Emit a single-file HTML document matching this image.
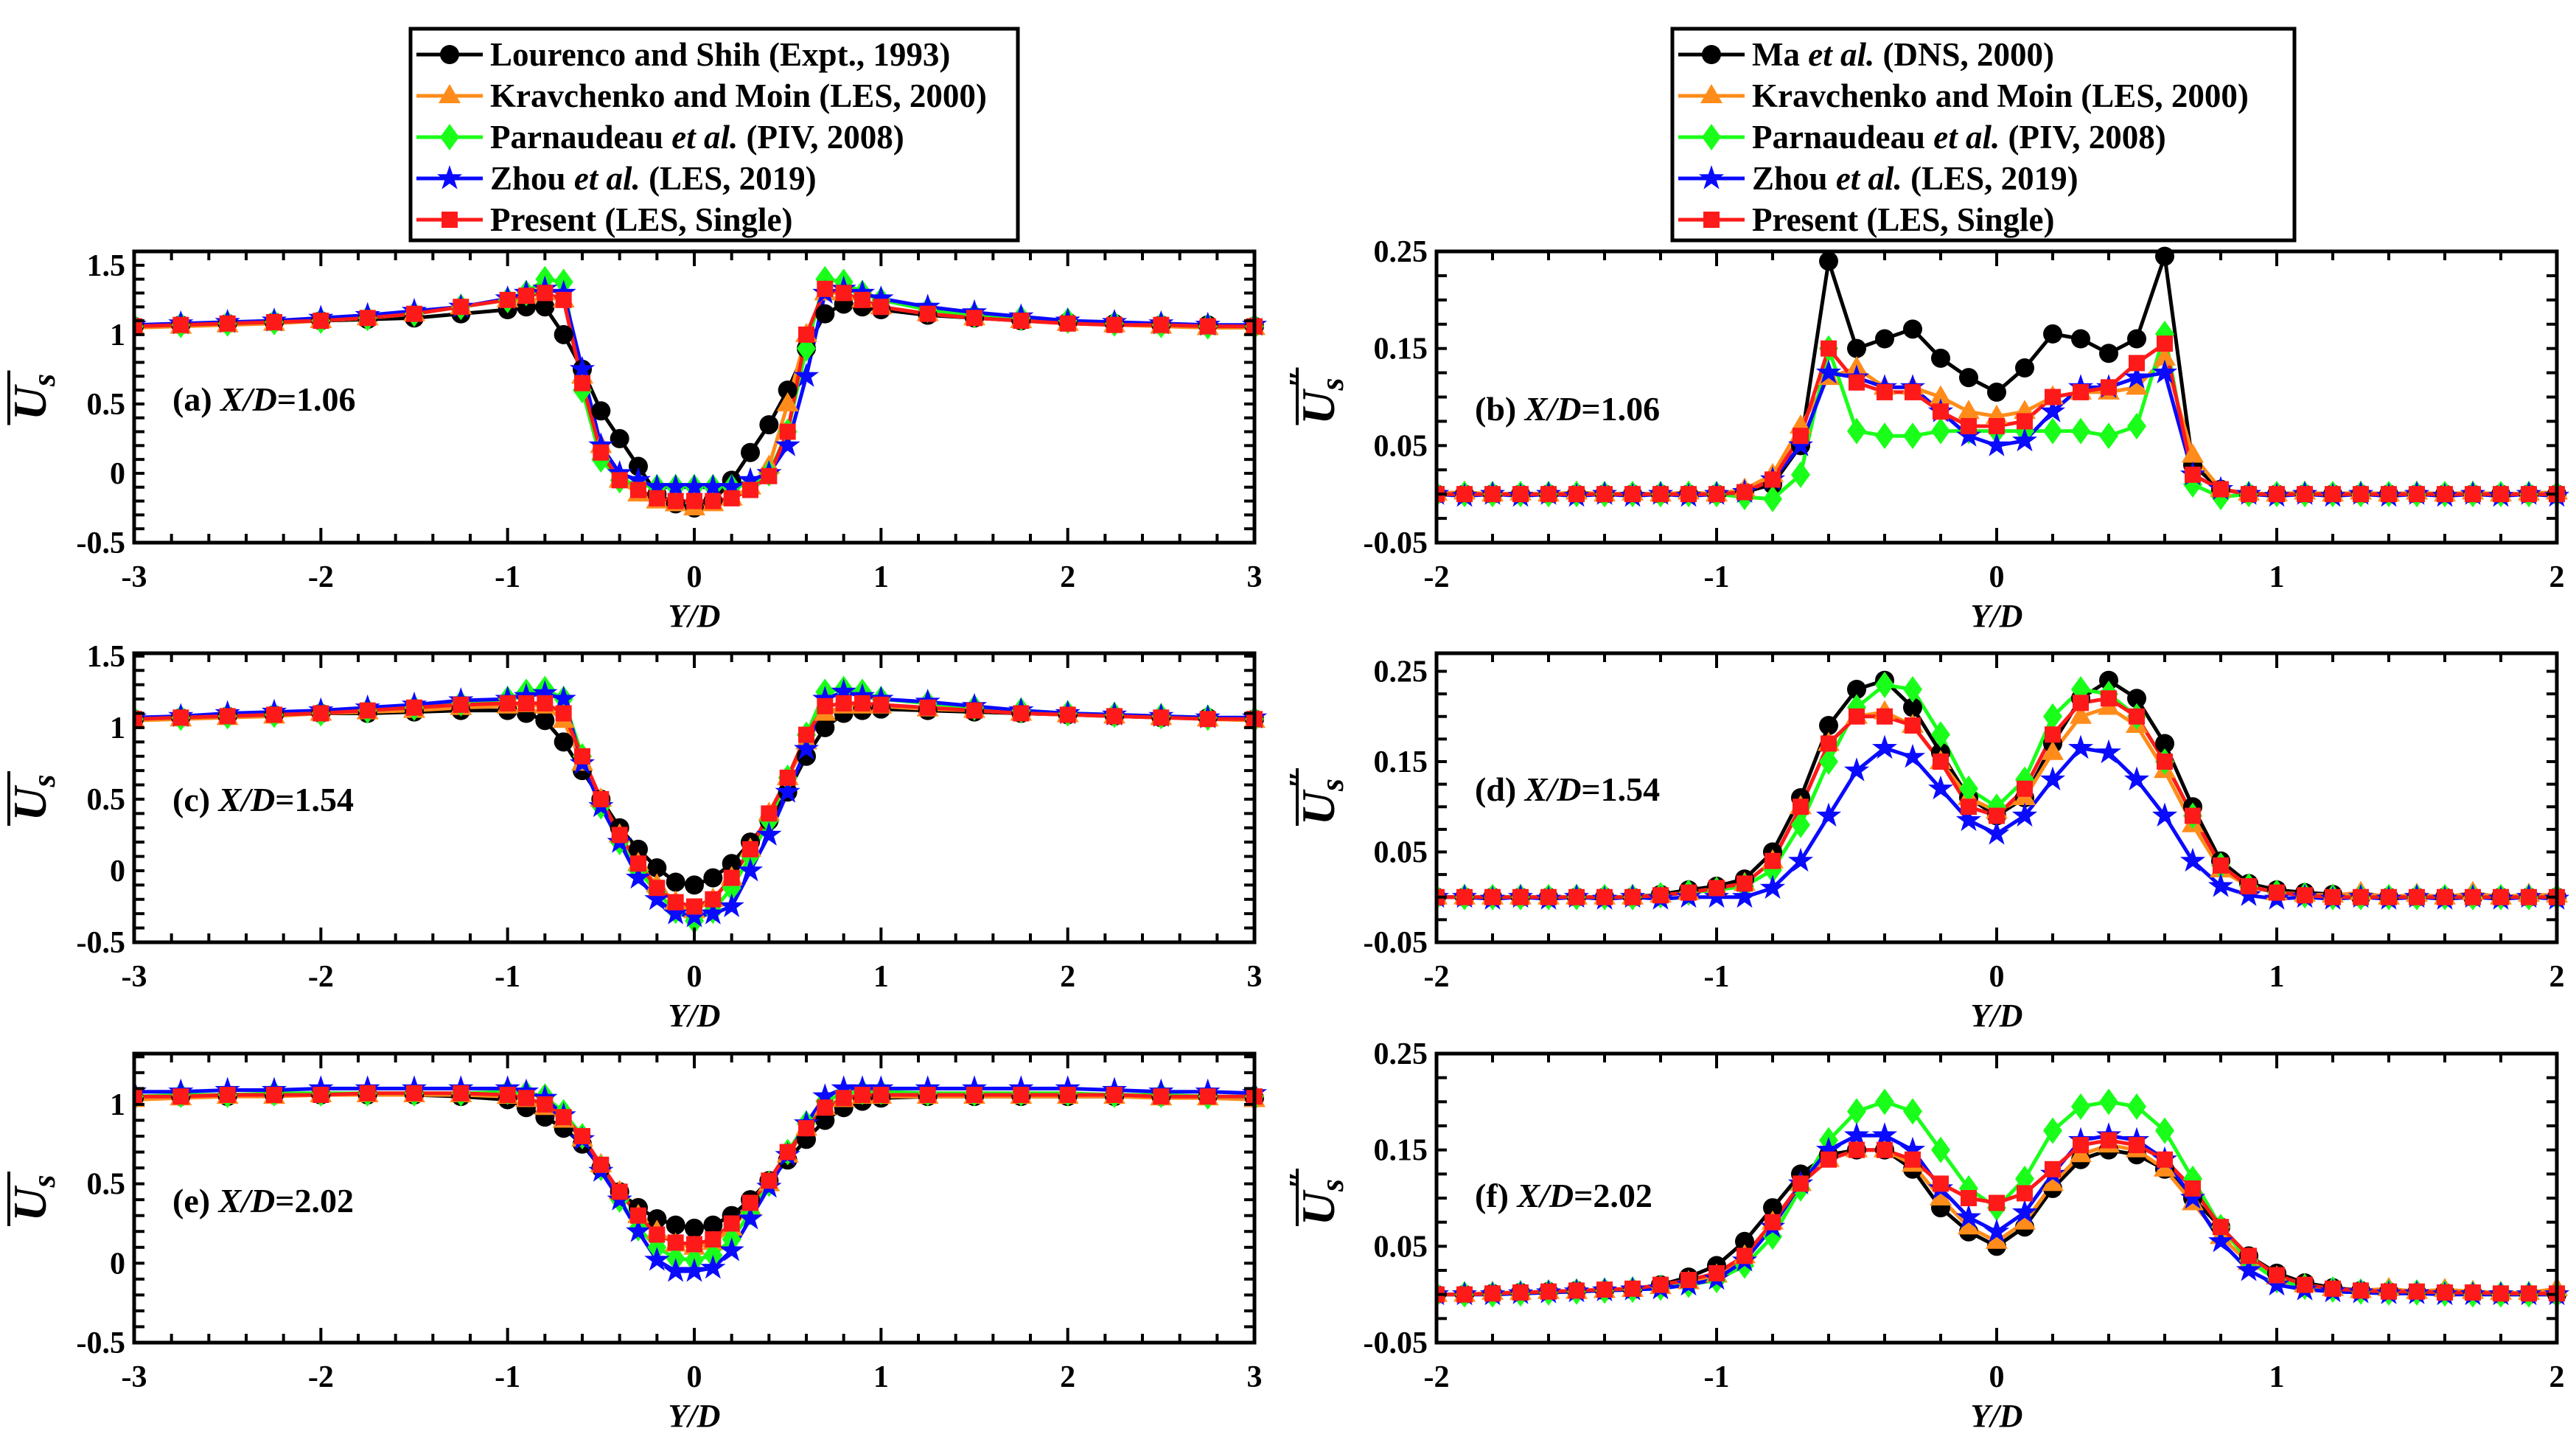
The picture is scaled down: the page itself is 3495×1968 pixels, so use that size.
<!DOCTYPE html>
<html><head><meta charset="utf-8"><style>
html,body{margin:0;padding:0;background:#fff;}
svg{display:block;font-family:"Liberation Serif",serif;font-weight:bold;}
</style></head><body>
<svg id="fig" width="3495" height="1968" viewBox="0 0 3495 1968" xmlns="http://www.w3.org/2000/svg"></svg>
<script>
// ---- data ----
const gridL = [-3,-2.75,-2.5,-2.25,-2,-1.75,-1.5,-1.25,-1,-0.9,-0.8,-0.7,-0.6,-0.5,-0.4,-0.3,-0.2,-0.1,0,0.1,0.2,0.3,0.4,0.5,0.6,0.7,0.8,0.9,1,1.25,1.5,1.75,2,2.25,2.5,2.75,3];
const gridR = [-2,-1.9,-1.8,-1.7,-1.6,-1.5,-1.4,-1.3,-1.2,-1.1,-1,-0.9,-0.8,-0.7,-0.6,-0.5,-0.4,-0.3,-0.2,-0.1,0,0.1,0.2,0.3,0.4,0.5,0.6,0.7,0.8,0.9,1,1.1,1.2,1.3,1.4,1.5,1.6,1.7,1.8,1.9,2];

const aBlack=[1.06,1.07,1.08,1.09,1.1,1.11,1.12,1.15,1.18,1.2,1.2,1.0,0.75,0.45,0.25,0.05,-0.15,-0.22,-0.25,-0.2,-0.05,0.15,0.35,0.6,0.9,1.15,1.22,1.2,1.18,1.14,1.12,1.1,1.09,1.08,1.07,1.07,1.06];
const aOrange=[1.05,1.06,1.07,1.08,1.1,1.12,1.15,1.2,1.25,1.28,1.3,1.25,0.7,0.2,-0.05,-0.15,-0.2,-0.22,-0.25,-0.22,-0.18,-0.1,0.05,0.5,1.0,1.3,1.3,1.25,1.2,1.15,1.12,1.1,1.08,1.07,1.06,1.05,1.05];
const aGreen=[1.06,1.07,1.08,1.09,1.1,1.12,1.15,1.2,1.25,1.3,1.4,1.38,0.6,0.1,-0.05,-0.08,-0.1,-0.1,-0.1,-0.1,-0.1,-0.08,0.0,0.3,0.9,1.4,1.38,1.3,1.25,1.18,1.14,1.12,1.1,1.08,1.07,1.06,1.06];
const aBlue=[1.07,1.08,1.09,1.1,1.12,1.14,1.17,1.2,1.26,1.3,1.33,1.3,0.75,0.2,0.0,-0.05,-0.1,-0.1,-0.1,-0.1,-0.1,-0.05,0.0,0.2,0.7,1.3,1.33,1.3,1.26,1.2,1.16,1.13,1.1,1.09,1.08,1.07,1.07];
const aRed=[1.06,1.07,1.08,1.09,1.1,1.12,1.15,1.2,1.25,1.28,1.3,1.25,0.65,0.15,-0.05,-0.12,-0.18,-0.2,-0.2,-0.2,-0.18,-0.12,-0.02,0.3,1.0,1.33,1.3,1.25,1.2,1.15,1.12,1.1,1.08,1.07,1.07,1.06,1.06];

const cBlack=[1.06,1.07,1.08,1.09,1.1,1.1,1.11,1.12,1.12,1.1,1.05,0.9,0.7,0.5,0.3,0.15,0.02,-0.08,-0.1,-0.05,0.05,0.2,0.35,0.55,0.8,1.0,1.1,1.12,1.13,1.12,1.11,1.1,1.09,1.08,1.07,1.07,1.06];
const cOrange=[1.05,1.06,1.07,1.08,1.1,1.11,1.12,1.14,1.15,1.16,1.15,1.05,0.75,0.5,0.25,0.05,-0.1,-0.22,-0.28,-0.2,-0.05,0.15,0.4,0.65,0.9,1.1,1.15,1.15,1.15,1.13,1.12,1.1,1.09,1.08,1.07,1.06,1.05];
const cGreen=[1.06,1.07,1.08,1.09,1.1,1.12,1.14,1.17,1.2,1.25,1.27,1.2,0.8,0.45,0.2,0.0,-0.15,-0.28,-0.35,-0.28,-0.12,0.1,0.35,0.65,0.95,1.25,1.27,1.25,1.2,1.17,1.14,1.12,1.1,1.09,1.08,1.07,1.06];
const cBlue=[1.07,1.08,1.1,1.11,1.12,1.14,1.16,1.19,1.2,1.22,1.24,1.2,0.75,0.45,0.2,-0.05,-0.2,-0.3,-0.32,-0.3,-0.25,0.0,0.25,0.55,0.85,1.2,1.25,1.22,1.2,1.18,1.15,1.12,1.1,1.09,1.08,1.07,1.07];
const cRed=[1.06,1.07,1.08,1.09,1.1,1.12,1.14,1.16,1.17,1.17,1.17,1.1,0.8,0.5,0.25,0.05,-0.12,-0.22,-0.25,-0.2,-0.05,0.15,0.4,0.65,0.95,1.15,1.17,1.17,1.16,1.14,1.12,1.1,1.09,1.08,1.07,1.06,1.06];

const eBlack=[1.04,1.05,1.05,1.06,1.06,1.06,1.06,1.05,1.03,0.98,0.92,0.85,0.75,0.6,0.45,0.35,0.28,0.24,0.22,0.24,0.3,0.4,0.52,0.65,0.78,0.9,0.98,1.02,1.04,1.05,1.05,1.05,1.05,1.05,1.05,1.05,1.04];
const eOrange=[1.03,1.04,1.05,1.05,1.06,1.06,1.06,1.06,1.05,1.03,0.98,0.9,0.78,0.62,0.45,0.3,0.2,0.12,0.1,0.13,0.22,0.35,0.5,0.68,0.85,0.98,1.03,1.05,1.05,1.05,1.05,1.05,1.05,1.05,1.04,1.04,1.03];
const eGreen=[1.05,1.06,1.06,1.07,1.07,1.07,1.07,1.07,1.08,1.07,1.05,0.95,0.8,0.6,0.4,0.22,0.1,0.03,0.02,0.05,0.15,0.32,0.5,0.7,0.88,1.02,1.07,1.08,1.08,1.07,1.07,1.07,1.07,1.06,1.06,1.05,1.05];
const eBlue=[1.08,1.08,1.09,1.09,1.1,1.1,1.1,1.1,1.1,1.08,1.04,0.93,0.78,0.58,0.4,0.2,0.02,-0.05,-0.05,-0.03,0.08,0.28,0.48,0.68,0.88,1.05,1.1,1.1,1.1,1.1,1.1,1.1,1.1,1.09,1.08,1.08,1.07];
const eRed=[1.05,1.05,1.06,1.06,1.06,1.07,1.07,1.07,1.06,1.04,1.0,0.92,0.8,0.62,0.45,0.3,0.18,0.13,0.12,0.15,0.25,0.38,0.52,0.7,0.85,0.98,1.04,1.06,1.06,1.06,1.06,1.06,1.06,1.06,1.05,1.05,1.05];

const bBlack=[0,0,0,0,0,0,0,0,0,0,0,0.002,0.01,0.05,0.24,0.15,0.16,0.17,0.14,0.12,0.105,0.13,0.165,0.16,0.145,0.16,0.245,0.03,0.005,0,0,0,0,0,0,0,0,0,0,0,0];
const bOrange=[0.001,0.002,0,0.001,0,0.002,0,0.001,0,0.002,0,0.005,0.02,0.07,0.12,0.13,0.11,0.11,0.1,0.085,0.08,0.085,0.1,0.105,0.105,0.11,0.14,0.04,0.005,0.001,0,0.002,0,0.002,0,0.002,0,0.002,0,0.001,0.002];
const bGreen=[0,0,0,0,0,0,0,0,0,0,0,-0.003,-0.005,0.02,0.15,0.065,0.06,0.06,0.065,0.065,0.065,0.065,0.065,0.065,0.06,0.07,0.165,0.01,-0.003,0,0,0,0,0,0,0,0,0,0,0,0];
const bBlue=[0,-0.002,0,-0.002,0,-0.002,0,-0.002,0,-0.002,0,0.002,0.015,0.05,0.125,0.12,0.11,0.11,0.085,0.06,0.05,0.055,0.085,0.11,0.11,0.12,0.125,0.02,0.005,0,-0.002,0,-0.002,0,-0.002,0,-0.002,0,-0.002,0,-0.002];
const bRed=[0,0,0,0,0,0,0,0,0,0,0,0.002,0.015,0.06,0.15,0.115,0.105,0.105,0.085,0.07,0.07,0.075,0.1,0.105,0.11,0.135,0.155,0.02,0.005,0,0,0,0,0,0,0,0,0,0,0,0];

const dBlack=[0,0,0,0,0,0,0,0,0.003,0.008,0.012,0.02,0.05,0.11,0.19,0.23,0.24,0.21,0.16,0.11,0.09,0.11,0.17,0.22,0.24,0.22,0.17,0.1,0.04,0.015,0.008,0.005,0.003,0,0,0,0,0,0,0,0];
const dOrange=[0,0,0,0,0,0,0,0,0.002,0.005,0.01,0.015,0.04,0.1,0.17,0.2,0.205,0.19,0.15,0.11,0.095,0.11,0.16,0.2,0.21,0.19,0.14,0.08,0.03,0.012,0.005,0.003,0.002,0.005,0,0.003,0,0.005,0,0.003,0.002];
const dGreen=[0,0,0,0,0,0,0,0,0.002,0.005,0.008,0.012,0.03,0.08,0.15,0.21,0.235,0.23,0.18,0.12,0.1,0.13,0.2,0.23,0.225,0.2,0.15,0.09,0.035,0.012,0.005,0.002,0,0,0,0,0,0,0,0,0];
const dBlue=[0,0,-0.002,0,-0.002,0,-0.002,0,-0.002,0,0,0,0.01,0.04,0.09,0.14,0.165,0.155,0.12,0.085,0.07,0.09,0.13,0.165,0.16,0.13,0.09,0.04,0.012,0.002,-0.002,0,-0.002,0,-0.002,0,-0.002,0,-0.002,0,-0.002];
const dRed=[0,0,0,0,0,0,0,0,0.002,0.005,0.01,0.015,0.04,0.1,0.17,0.2,0.2,0.19,0.15,0.1,0.09,0.12,0.18,0.215,0.22,0.2,0.15,0.09,0.035,0.012,0.005,0.002,0,0,0,0,0,0,0,0,0];

const fBlack=[0,0,0.001,0.002,0.003,0.004,0.004,0.005,0.01,0.018,0.03,0.055,0.09,0.125,0.145,0.15,0.15,0.13,0.09,0.065,0.05,0.07,0.11,0.14,0.15,0.145,0.13,0.1,0.07,0.04,0.022,0.012,0.007,0.004,0.003,0.002,0.002,0.001,0,0,0];
const fOrange=[0,0,0.002,0.002,0.003,0.003,0.004,0.005,0.008,0.013,0.02,0.04,0.075,0.115,0.14,0.15,0.15,0.135,0.1,0.07,0.055,0.075,0.115,0.145,0.155,0.15,0.13,0.095,0.06,0.033,0.018,0.01,0.006,0.004,0.006,0.003,0.005,0.003,0.002,0.002,0.006];
const fGreen=[0,0,0,0.001,0.002,0.003,0.004,0.005,0.007,0.01,0.015,0.03,0.06,0.11,0.16,0.19,0.2,0.19,0.15,0.11,0.09,0.12,0.17,0.195,0.2,0.195,0.17,0.12,0.07,0.035,0.015,0.008,0.005,0.003,0.002,0.002,0.001,0,0,0,0];
const fBlue=[0,0,0,0.001,0.002,0.003,0.004,0.005,0.006,0.01,0.016,0.035,0.07,0.115,0.15,0.165,0.165,0.15,0.11,0.08,0.065,0.085,0.125,0.16,0.165,0.16,0.14,0.1,0.055,0.025,0.01,0.005,0.003,0.002,0.001,0.001,0,0,0,0,0];
const fRed=[0,0,0.001,0.002,0.003,0.004,0.005,0.006,0.01,0.015,0.022,0.04,0.075,0.115,0.14,0.15,0.15,0.14,0.115,0.1,0.095,0.105,0.13,0.155,0.16,0.155,0.14,0.11,0.07,0.04,0.02,0.01,0.006,0.004,0.003,0.003,0.002,0.002,0.001,0.001,0.001];

const ticksXL=[-3,-2,-1,0,1,2,3];
const ticksXR=[-2,-1,0,1,2];
const ticksYL=[-0.5,0,0.5,1,1.5];
const ticksYLe=[-0.5,0,0.5,1];
const ticksYR=[-0.05,0.05,0.15,0.25];
const legendLeft=["Lourenco and Shih (Expt., 1993)","Kravchenko and Moin (LES, 2000)","Parnaudeau |et al.| (PIV, 2008)","Zhou |et al.| (LES, 2019)","Present (LES, Single)"];
const legendRight=["Ma |et al.| (DNS, 2000)","Kravchenko and Moin (LES, 2000)","Parnaudeau |et al.| (PIV, 2008)","Zhou |et al.| (LES, 2019)","Present (LES, Single)"];

// ---- drawing ----
const NS="http://www.w3.org/2000/svg";
const svg=document.getElementById('fig');
const colors=['#000000','#ff8c1a','#1aff1a','#0a0aff','#ff1a1a'];
const shapes=['circle','triangle','diamond','star','square'];
const snames=['black','orange','green','blue','red'];
function mk(tag,attrs,parent){const e=document.createElementNS(NS,tag);for(const k in attrs)e.setAttribute(k,attrs[k]);(parent||svg).appendChild(e);return e;}
function marker(g,shape,x,y,c){
  let e;
  if(shape==='circle')e=mk('circle',{cx:x,cy:y,r:13,fill:c},g);
  else if(shape==='square')e=mk('rect',{x:x-11,y:y-11,width:22,height:22,fill:c},g);
  else if(shape==='triangle')e=mk('polygon',{points:`${x},${y-16} ${x+15},${y+10} ${x-15},${y+10}`,fill:c},g);
  else if(shape==='diamond')e=mk('polygon',{points:`${x},${y-18} ${x+13},${y} ${x},${y+18} ${x-13},${y}`,fill:c},g);
  else {let p=[];for(let i=0;i<10;i++){const r=i%2?7:18;const a=-Math.PI/2+i*Math.PI/5;p.push((x+r*Math.cos(a)).toFixed(1)+','+(y+r*Math.sin(a)).toFixed(1));}e=mk('polygon',{points:p.join(' '),fill:c},g);}
  
  
}
function panel(o){
  const g=mk('g',{});
  
  
  const sx=v=>o.x0+(v-o.xmin)/(o.xmax-o.xmin)*(o.x1-o.x0);
  const sy=v=>o.y1-(v-o.ymin)/(o.ymax-o.ymin)*(o.y1-o.y0);
  const cid='clip'+o.id;
  const cp=mk('clipPath',{id:cid},g);mk('rect',{x:o.x0,y:o.y0-20,width:o.x1-o.x0+20,height:o.y1-o.y0+20},cp);
  const dg=mk('g',{'clip-path':`url(#${cid})`},g);
  
  
  o.series.forEach((s,i)=>{
    const pts=o.grid.map((xv,j)=>sx(xv).toFixed(1)+','+sy(s[j]).toFixed(1)).join(' ');
    const pl=mk('polyline',{points:pts,fill:'none',stroke:colors[i],'stroke-width':5},dg);
    
    
  });
  o.series.forEach((s,i)=>{o.grid.forEach((xv,j)=>marker(dg,shapes[i],sx(xv),sy(s[j]),colors[i]));});
  const tk=mk('g',{stroke:'#000','stroke-width':4},g);
  for(let v=o.xmin;v<=o.xmax+1e-9;v+=o.xminor){const X=sx(v);const major=Math.abs(v-Math.round(v))<1e-6;const L=major?20:12;
    mk('line',{x1:X,y1:o.y1,x2:X,y2:o.y1-L},tk);mk('line',{x1:X,y1:o.y0,x2:X,y2:o.y0+L},tk);}
  for(let v=o.ymin;v<=o.ymax+1e-9;v+=o.yminor){const Y=sy(v);const L=14;
    mk('line',{x1:o.x0,y1:Y,x2:o.x0+L,y2:Y},tk);mk('line',{x1:o.x1,y1:Y,x2:o.x1-L,y2:Y},tk);}
  const box=mk('rect',{x:o.x0,y:o.y0,width:o.x1-o.x0,height:o.y1-o.y0,fill:'none',stroke:'#000','stroke-width':5},g);
  
  
  o.xt.forEach(v=>{const t=mk('text',{x:sx(v),y:o.y1+60,'font-size':42,'text-anchor':'middle'},g);t.textContent=String(v);
    
    });
  o.yt.forEach(v=>{const t=mk('text',{x:o.x0-12,y:sy(v)+14,'font-size':42,'text-anchor':'end'},g);t.textContent=String(v);
    
    });
  const xl=mk('text',{x:(o.x0+o.x1)/2,y:o.y1+114,'font-size':44,'text-anchor':'middle','font-style':'italic'},g);xl.textContent='Y/D';
  
  
  const pt=mk('text',{x:o.x0+52,y:o.labY,'font-size':46},g);
  pt.innerHTML=`(${o.id}) <tspan font-style="italic">X/D</tspan>=${o.xd}`;
  
  
  const cy=(o.y0+o.y1)/2, cx=o.yTitleX;
  const yg=mk('g',{transform:`translate(${cx},${cy}) rotate(-90)`},g);
  
  
  const yt=mk('text',{x:0,y:0,'font-size':64,'text-anchor':'middle','font-style':'italic'},yg);
  yt.innerHTML=o.right?'U<tspan font-size="44" dy="12">s</tspan><tspan font-size="46" dy="-42" dx="-14">″</tspan>':'U<tspan font-size="44" dy="12">s</tspan>';
  mk('line',{x1:-38,y1:-50,x2:o.right?40:36,y2:-50,stroke:'#000','stroke-width':4},yg);
}
const L={x0:182,x1:1702,xmin:-3,xmax:3,xminor:0.2,grid:gridL,xt:ticksXL,yTitleX:62};
const R={x0:1949,x1:3469,xmin:-2,xmax:2,xminor:0.2,grid:gridR,xt:ticksXR,yTitleX:1810,right:true};
panel(Object.assign({},L,{id:'a',xd:'1.06',y0:341,y1:736,ymin:-0.5,ymax:1.6,yminor:0.1,yt:ticksYL,labY:557,series:[aBlack,aOrange,aGreen,aBlue,aRed]}));
panel(Object.assign({},L,{id:'c',xd:'1.54',y0:886,y1:1278,ymin:-0.5,ymax:1.52,yminor:0.1,yt:ticksYL,labY:1100,series:[cBlack,cOrange,cGreen,cBlue,cRed]}));
panel(Object.assign({},L,{id:'e',xd:'2.02',y0:1429,y1:1821,ymin:-0.5,ymax:1.32,yminor:0.1,yt:ticksYLe,labY:1644,series:[eBlack,eOrange,eGreen,eBlue,eRed]}));
panel(Object.assign({},R,{id:'b',xd:'1.06',y0:341,y1:736,ymin:-0.05,ymax:0.25,yminor:0.025,yt:ticksYR,labY:570,series:[bBlack,bOrange,bGreen,bBlue,bRed]}));
panel(Object.assign({},R,{id:'d',xd:'1.54',y0:886,y1:1278,ymin:-0.05,ymax:0.27,yminor:0.025,yt:ticksYR,labY:1086,series:[dBlack,dOrange,dGreen,dBlue,dRed]}));
panel(Object.assign({},R,{id:'f',xd:'2.02',y0:1429,y1:1821,ymin:-0.05,ymax:0.25,yminor:0.025,yt:ticksYR,labY:1637,series:[fBlack,fOrange,fGreen,fBlue,fRed]}));

function legend(x0,x1,labels,name){
  const g=mk('g',{});
  
  
  mk('rect',{x:x0,y:39,width:x1-x0,height:287,fill:'#fff',stroke:'#000','stroke-width':5},g);
  labels.forEach((lab,i)=>{
    const y=74+i*56;
    const eg=mk('g',{},g);
    
    
    mk('line',{x1:x0+8,y1:y,x2:x0+98,y2:y,stroke:colors[i],'stroke-width':5},eg);
    marker(eg,shapes[i],x0+53,y,colors[i]);
    const parts=lab.split('|');
    const t=mk('text',{x:x0+108,y:y+15,'font-size':45},eg);
    t.innerHTML=parts.map((p,k)=>k%2?`<tspan font-style="italic">${p}</tspan>`:`<tspan>${p}</tspan>`).join('');
  });
}
legend(557,1381,legendLeft,'legend-left');
legend(2269,3113,legendRight,'legend-right');
</script>
</body></html>
